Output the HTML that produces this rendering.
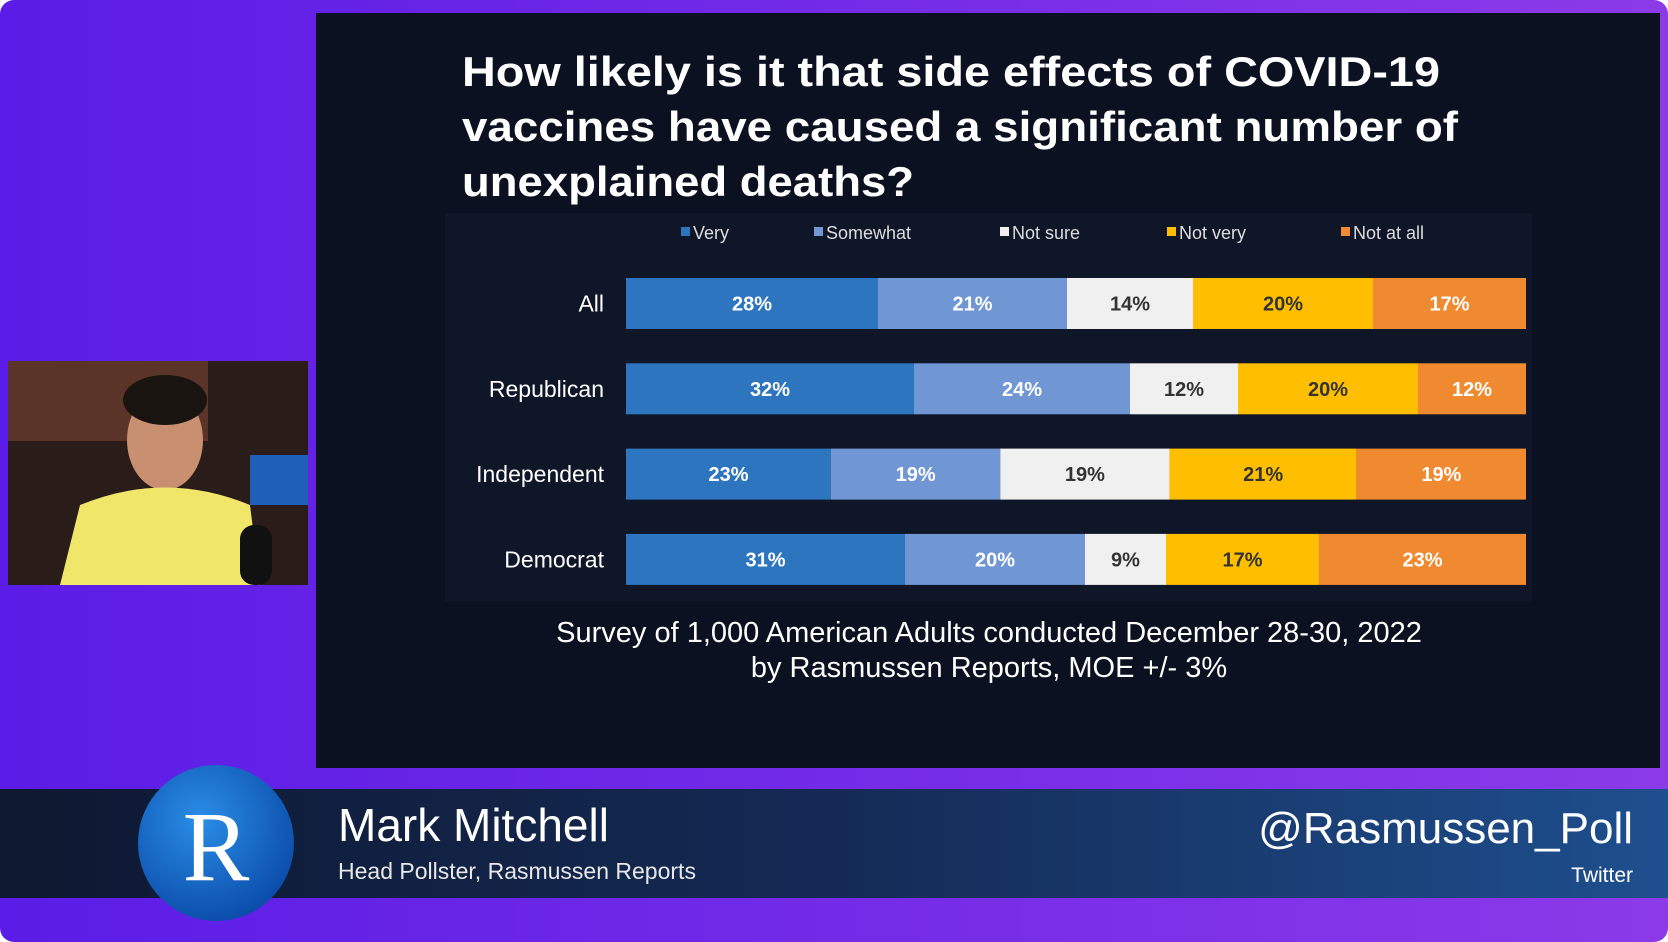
<!DOCTYPE html>
<html><head><meta charset="utf-8"><style>
html,body{margin:0;padding:0;background:#fff;}
svg{display:block;font-family:"Liberation Sans",sans-serif;}
</style></head><body>
<svg width="1668" height="942" viewBox="0 0 1668 942">
<defs>
<linearGradient id="bg" x1="0" x2="1" y1="0" y2="0"><stop offset="0" stop-color="#5a1ce6"/><stop offset="1" stop-color="#8c3ae8"/></linearGradient>
<linearGradient id="ban" x1="0" x2="1"><stop offset="0" stop-color="#0e1830"/><stop offset="0.5" stop-color="#142a55"/><stop offset="1" stop-color="#1e4f8e"/></linearGradient>
<radialGradient id="rc" cx="0.4" cy="0.35" r="0.7"><stop offset="0" stop-color="#2a8ee6"/><stop offset="1" stop-color="#0a4aa8"/></radialGradient>
</defs>
<rect width="1668" height="942" rx="14" fill="url(#bg)"/>
<g>
<rect x="8" y="361" width="300" height="224" fill="#2a1c18"/>
<rect x="8" y="361" width="200" height="80" fill="#5a3428"/>
<rect x="250" y="455" width="58" height="50" fill="#1f5fb8"/>
<ellipse cx="165" cy="440" rx="38" ry="50" fill="#c89070"/>
<ellipse cx="165" cy="400" rx="42" ry="25" fill="#1a1410"/>
<path d="M60 585 L80 505 Q165 470 250 505 L260 585 Z" fill="#f0e66a"/>
<rect x="240" y="525" width="32" height="60" rx="14" fill="#111"/>
</g>
<rect x="316" y="13" width="1344" height="755" fill="#0b1120"/>
<rect x="445" y="213" width="1087" height="388" fill="#0f1628"/>
<g fill="#fff" font-weight="bold" font-size="42">
<text x="462" y="86" textLength="978" lengthAdjust="spacingAndGlyphs">How likely is it that side effects of COVID-19</text>
<text x="462" y="141" textLength="996" lengthAdjust="spacingAndGlyphs">vaccines have caused a significant number of</text>
<text x="462" y="196" textLength="452" lengthAdjust="spacingAndGlyphs">unexplained deaths?</text>
</g>
<g id="legend"></g>
<g id="bars"></g>
<g fill="#fff" font-size="29" text-anchor="middle">
<text x="989" y="642">Survey of 1,000 American Adults conducted December 28-30, 2022</text>
<text x="989" y="677">by Rasmussen Reports, MOE +/- 3%</text>
</g>
<rect x="0" y="789" width="1668" height="109" fill="url(#ban)"/>
<circle cx="216" cy="843" r="78" fill="url(#rc)"/>
<text x="216" y="880" fill="#fff" font-family="Liberation Serif,serif" font-size="100" text-anchor="middle">R</text>
<text x="338" y="841" fill="#fff" font-size="46">Mark Mitchell</text>
<text x="338" y="879" fill="#e8e8e8" font-size="23">Head Pollster, Rasmussen Reports</text>
<text x="1633" y="843" fill="#fff" font-size="44" text-anchor="end">@Rasmussen_Poll</text>
<text x="1633" y="882" fill="#fff" font-size="21" text-anchor="end">Twitter</text>
</svg>
<script>
const categories = ["All","Republican","Independent","Democrat"];
const seriesNames = ["Very","Somewhat","Not sure","Not very","Not at all"];
const very = [28,32,23,31];
const somewhat = [21,24,19,20];
const notSure = [14,12,19,9];
const notVery = [20,20,21,17];
const notAtAll = [17,12,19,23];
const series = [very, somewhat, notSure, notVery, notAtAll];
const colors = ["#2e75c0","#7097d4","#f0f0f0","#ffbf00","#f08a30"];
const textColors = ["#fff","#fff","#333","#333","#fff"];
const NS = "http://www.w3.org/2000/svg";
const x0 = 626, x1 = 1526, rowTop = 278, rowStep = 85.3, barH = 51;
function xScale(v, total){ return (v / total) * (x1 - x0); }
function yScale(i){ return rowTop + i * rowStep; }
const bars = document.getElementById('bars');
categories.forEach((c, i) => {
  const y = yScale(i);
  const lab = document.createElementNS(NS, 'text');
  
  
  lab.setAttribute('x', 604); lab.setAttribute('y', y + barH/2 + 8);
  lab.setAttribute('text-anchor', 'end'); lab.setAttribute('fill', '#fff'); lab.setAttribute('font-size', '23');
  lab.textContent = c; bars.appendChild(lab);
  let total = 0; series.forEach(s => total += s[i]);
  let cx = x0;
  series.forEach((s, k) => {
    const w = xScale(s[i], total);
    const r = document.createElementNS(NS, 'rect');
    
    
    r.setAttribute('x', cx); r.setAttribute('y', y); r.setAttribute('width', w); r.setAttribute('height', barH);
    r.setAttribute('fill', colors[k]); bars.appendChild(r);
    const t = document.createElementNS(NS, 'text');
    
    
    t.setAttribute('x', cx + w/2); t.setAttribute('y', y + barH/2 + 7);
    t.setAttribute('text-anchor', 'middle'); t.setAttribute('fill', textColors[k]);
    t.setAttribute('font-size', '20'); t.setAttribute('font-weight', 'bold');
    t.textContent = s[i] + '%'; bars.appendChild(t);
    cx += w;
  });
});
const legend = document.getElementById('legend');
const legendX = [681, 814, 1000, 1167, 1341];
seriesNames.forEach((n, k) => {
  const sq = document.createElementNS(NS, 'rect');
  
  
  sq.setAttribute('x', legendX[k]); sq.setAttribute('y', 227); sq.setAttribute('width', 9); sq.setAttribute('height', 9);
  sq.setAttribute('fill', colors[k]); legend.appendChild(sq);
  const t = document.createElementNS(NS, 'text');
  
  
  t.setAttribute('x', legendX[k] + 12); t.setAttribute('y', 239);
  t.setAttribute('fill', '#ddd'); t.setAttribute('font-size', '18');
  t.textContent = n; legend.appendChild(t);
});
</script>
</body></html>
